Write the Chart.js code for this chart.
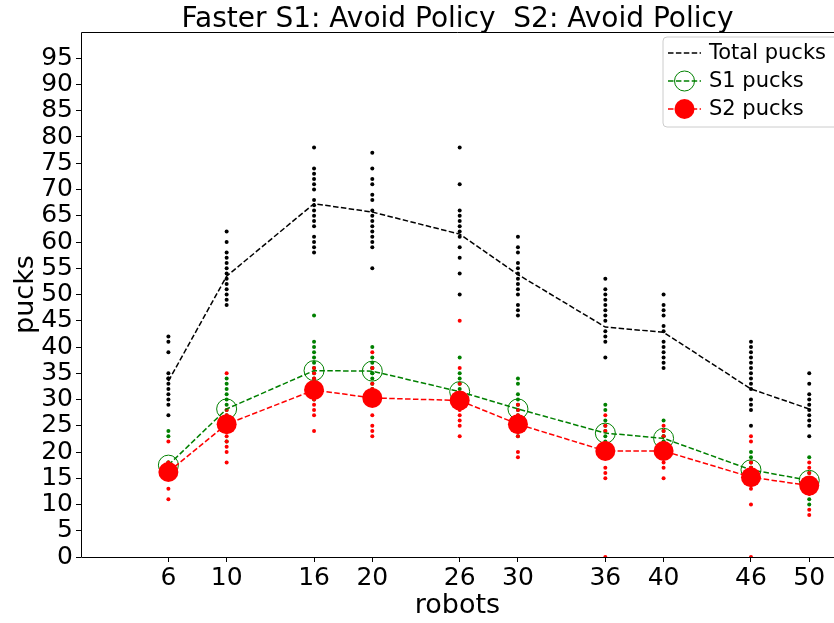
<!DOCTYPE html>
<html>
<head>
<meta charset="utf-8">
<script src="https://cdn.jsdelivr.net/npm/chart.js@4.4.1/dist/chart.umd.min.js"></script>
<style>
  html, body { margin: 0; padding: 0; background: #fff; overflow: hidden; }
  #wrap { width: 834px; height: 623px; }
</style>
</head>
<body>
<div id="wrap"><canvas id="pucks-chart" width="834" height="623"></canvas></div>
<script>
// robots per run
const robots = [6, 10, 16, 20, 26, 30, 36, 40, 46, 50];

// averages
const totalMean = [33.5, 53.5, 67.3, 65.7, 61.5, 53.8, 43.8, 42.8, 32.0, 28.2];
const s1Mean    = [17.5, 28.2, 35.5, 35.4, 31.5, 28.2, 23.6, 22.6, 16.6, 14.6];
const s2Mean    = [16.2, 25.3, 31.8, 30.3, 29.8, 25.3, 20.2, 20.2, 15.2, 13.6];

// single runs, one list per robot count
const totalRuns = [
    [42, 41, 39, 35, 34, 34, 33, 32, 31, 30, 29, 27],
    [62, 60, 58, 57, 56, 55, 54, 53, 52, 51, 50, 49, 48],
    [78, 74, 73, 72, 71, 70, 68, 67, 66, 65, 64, 63, 61, 60, 59, 58],
    [77, 74, 72, 71, 69, 68, 66, 65, 64, 63, 62, 61, 60, 59, 55],
    [78, 71, 66, 65, 64, 63, 62, 61, 59, 57, 54, 50],
    [61, 59, 58, 56, 55, 54, 53, 52, 51, 50, 48, 47, 46],
    [53, 51, 50, 49, 48, 47, 46, 45, 43, 42, 41, 38],
    [50, 48, 47, 46, 44, 43, 41, 40, 39, 38, 37, 36],
    [41, 40, 39, 38, 37, 36, 35, 34, 33, 32, 30, 29, 28, 25],
    [35, 33, 31, 30, 29, 28, 27, 26, 25, 23],
];
const s1Runs = [
    [24, 23, 18, 18, 17, 17, 17, 16, 16, 16, 15, 15],
    [34, 33, 32, 31, 30, 29, 28, 27, 26, 25, 24, 22],
    [46, 41, 40, 39, 38, 37, 36, 35, 34, 33, 32, 32, 31, 31, 30],
    [40, 38, 37, 36, 36, 35, 35, 34, 33, 32],
    [38, 35, 34, 33, 32, 31, 30, 30, 29, 29],
    [34, 33, 31, 30, 29, 28, 27, 26, 23],
    [29, 28, 26, 25, 24, 23, 22, 21, 20],
    [26, 24, 23, 23, 22, 22, 21, 21],
    [20, 19, 18, 17, 17, 16, 16, 15, 14],
    [19, 16, 15, 15, 14, 14, 13, 11, 10],
];
const s2Runs = [
    [22, 18, 17, 17, 16, 16, 16, 15, 15, 15, 13, 11],
    [35, 28, 27, 26, 26, 25, 25, 24, 23, 22, 21, 20, 18],
    [36, 35, 34, 33, 33, 32, 32, 31, 31, 30, 29, 28, 27, 24],
    [39, 36, 33, 32, 31, 30, 29, 27, 25, 24, 23],
    [45, 36, 33, 31, 30, 30, 29, 28, 27, 26, 25, 23],
    [29, 28, 27, 26, 25, 25, 24, 23, 20, 19],
    [27, 25, 24, 21, 20, 19, 17, 16, 15, 0],
    [25, 24, 23, 21, 20, 20, 19, 18, 17, 15],
    [23, 22, 18, 17, 16, 15, 15, 14, 13, 10, 0],
    [18, 17, 16, 15, 14, 13, 12, 9, 8],
];

const yTicks = [0, 5, 10, 15, 20, 25, 30, 35, 40, 45, 50, 55, 60, 65, 70, 75, 80, 85, 90, 95];

const GREEN = '#008000';
const RED = '#ff0000';
const FONT = "'DejaVu Sans', sans-serif";
const DASH = [5.5, 2.4];

const toPoints = (ys) => robots.map((x, i) => ({ x, y: ys[i] }));
const runPoints = (runs) => runs.flatMap((list, i) => list.map(y => ({ x: robots[i], y })));

Chart.defaults.font.family = FONT;
Chart.defaults.color = '#000';

const legendItems = [
    { label: 'Total pucks', color: '#000', marker: null },
    { label: 'S1 pucks', color: GREEN, marker: 'open' },
    { label: 'S2 pucks', color: RED, marker: 'filled' },
];

const deco = {
    id: 'deco',
    beforeDatasetsDraw(chart) {
        const { ctx, chartArea: a } = chart;
        ctx.save();
        ctx.strokeStyle = '#000';
        ctx.lineWidth = 1;
        ctx.beginPath();
        ctx.moveTo(a.right, a.top + 0.5);
        ctx.lineTo(a.left + 0.5, a.top + 0.5);
        ctx.lineTo(a.left + 0.5, a.bottom + 0.5);
        ctx.lineTo(a.right, a.bottom + 0.5);
        ctx.stroke();
        ctx.restore();
    },
    afterDraw(chart) {
        const { ctx, chartArea: a } = chart;
        const cx = (a.left + a.right) / 2;
        ctx.save();
        ctx.fillStyle = '#000';
        ctx.textAlign = 'center';
        ctx.textBaseline = 'alphabetic';
        ctx.font = '28px ' + FONT;
        ctx.fillText('Faster S1: Avoid Policy  S2: Avoid Policy', cx, 27);
        ctx.font = '27px ' + FONT;
        ctx.fillText('robots', cx, 613);
        ctx.translate(33, (a.top + a.bottom) / 2);
        ctx.rotate(-Math.PI / 2);
        ctx.fillText('pucks', 0, 0);
        ctx.restore();

        // legend box, runs past the right edge like the original
        const bx = 663, by = 37, bw = 190, bh = 90, r = 4;
        ctx.save();
        ctx.beginPath();
        ctx.moveTo(bx + r, by);
        ctx.lineTo(bx + bw - r, by);
        ctx.quadraticCurveTo(bx + bw, by, bx + bw, by + r);
        ctx.lineTo(bx + bw, by + bh - r);
        ctx.quadraticCurveTo(bx + bw, by + bh, bx + bw - r, by + bh);
        ctx.lineTo(bx + r, by + bh);
        ctx.quadraticCurveTo(bx, by + bh, bx, by + bh - r);
        ctx.lineTo(bx, by + r);
        ctx.quadraticCurveTo(bx, by, bx + r, by);
        ctx.closePath();
        ctx.fillStyle = 'rgba(255,255,255,0.8)';
        ctx.fill();
        ctx.strokeStyle = '#cccccc';
        ctx.lineWidth = 1;
        ctx.stroke();

        legendItems.forEach((item, i) => {
            const y = 53 + i * 28;
            ctx.setLineDash(DASH);
            ctx.strokeStyle = item.color;
            ctx.lineWidth = 1.5;
            ctx.beginPath();
            ctx.moveTo(668, y);
            ctx.lineTo(701, y);
            ctx.stroke();
            ctx.setLineDash([]);
            if (item.marker) {
                ctx.beginPath();
                ctx.arc(684.5, y, 10, 0, Math.PI * 2);
                if (item.marker === 'filled') {
                    ctx.fillStyle = item.color;
                    ctx.fill();
                } else {
                    ctx.lineWidth = 1;
                    ctx.stroke();
                }
            }
            ctx.fillStyle = '#000';
            ctx.font = '21px ' + FONT;
            ctx.textAlign = 'left';
            ctx.textBaseline = 'middle';
            ctx.fillText(item.label, 709, y + 1);
        });
        ctx.restore();
    },
};

const canvas = document.getElementById('pucks-chart');

new Chart(canvas, {
    type: 'scatter',
    data: {
        datasets: [
            {
                label: 'Total pucks',
                data: toPoints(totalMean),
                showLine: true,
                borderColor: '#000',
                borderWidth: 1.5,
                borderDash: DASH,
                pointRadius: 0,
                order: 3,
            },
            {
                label: 'S1 pucks',
                data: toPoints(s1Mean),
                showLine: true,
                borderColor: GREEN,
                borderWidth: 1.5,
                borderDash: DASH,
                pointRadius: 10,
                pointBorderColor: GREEN,
                pointBorderWidth: 1,
                pointBackgroundColor: 'rgba(0,0,0,0)',
                order: 2,
            },
            {
                label: 'S2 pucks',
                data: toPoints(s2Mean),
                showLine: true,
                borderColor: RED,
                borderWidth: 1.5,
                borderDash: DASH,
                pointRadius: 10,
                pointBorderWidth: 0,
                pointBackgroundColor: RED,
                order: 1,
            },
            {
                label: 'total runs',
                data: runPoints(totalRuns),
                pointRadius: 2,
                pointBorderWidth: 0,
                pointBackgroundColor: '#000',
                order: 6,
            },
            {
                label: 's1 runs',
                data: runPoints(s1Runs),
                pointRadius: 2,
                pointBorderWidth: 0,
                pointBackgroundColor: GREEN,
                order: 5,
            },
            {
                label: 's2 runs',
                data: runPoints(s2Runs),
                pointRadius: 2,
                pointBorderWidth: 0,
                pointBackgroundColor: RED,
                order: 4,
            },
        ],
    },
    options: {
        responsive: false,
        animation: false,
        devicePixelRatio: 1,
        layout: { autoPadding: false, padding: { top: 32, right: 0, left: 0, bottom: 0 } },
        plugins: {
            legend: { display: false },
            tooltip: { enabled: false },
            title: { display: false },
        },
        scales: {
            x: {
                type: 'linear',
                min: 0,
                max: 51.7,
                afterBuildTicks: (s) => { s.ticks = robots.map(v => ({ value: v })); },
                afterFit: (s) => {
                    s.height = 66;
                    s.paddingLeft = 0;
                    s.paddingRight = 0;
                },
                grid: { drawOnChartArea: false, drawTicks: true, tickLength: 5, color: '#000' },
                border: { display: false },
                ticks: {
                    color: '#000',
                    font: { family: FONT, size: 25 },
                    padding: 1,
                    maxRotation: 0,
                    autoSkip: false,
                },
            },
            y: {
                min: 0,
                max: 100,
                afterBuildTicks: (s) => { s.ticks = yTicks.map(v => ({ value: v })); },
                afterFit: (s) => {
                    s.width = 81;
                    s.paddingTop = 0;
                    s.paddingBottom = 0;
                },
                grid: { drawOnChartArea: false, drawTicks: true, tickLength: 5, color: '#000' },
                border: { display: false },
                ticks: {
                    color: '#000',
                    font: { family: FONT, size: 25 },
                    padding: 3,
                    autoSkip: false,
                },
            },
        },
    },
    plugins: [deco],
});
</script>
</body>
</html>
